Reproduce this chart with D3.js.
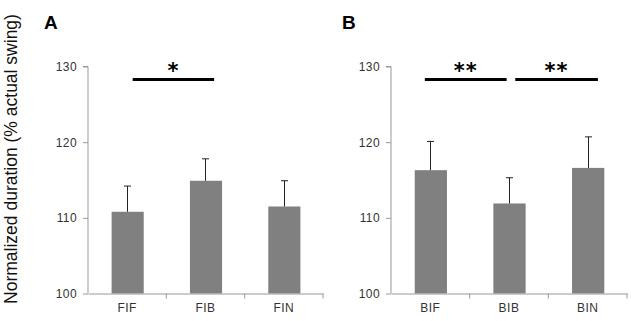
<!DOCTYPE html>
<html>
<head>
<meta charset="utf-8">
<script src="https://cdn.jsdelivr.net/npm/d3@7"></script>
<style>
  body { margin: 0; background: #fff; }
  svg { display: block; }
</style>
</head>
<body>
<div id="chart"></div>
<script>
// data
var catsA = ["FIF", "FIB", "FIN"];
var meanA = [110.8, 114.9, 111.5];
var errA = [3.4, 2.9, 3.4];

var catsB = ["BIF", "BIB", "BIN"];
var meanB = [116.3, 111.9, 116.6];
var errB = [3.8, 3.4, 4.1];

var yTicks = [100, 110, 120, 130];
// significance spans, in category-index units
var sigA = [[0.57, 1.61, "*"]];
var sigB = [[0.43, 1.47, "**"], [1.58, 2.63, "**"]];

function init() {
  var w = 631, h = 321;
  var svg = d3.select("#chart").append("svg")
      .attr("width", w).attr("height", h);

  var y = d3.scaleLinear().domain([100, 130]).range([293.5, 66.5]);

  function panel(left, right, cats, means, errs, sigs, letter, letterX) {
    var x = d3.scaleBand().domain(cats).range([left, right]).padding(0);
    var xi = d3.scaleLinear().domain([0, cats.length]).range([left, right]);
    var g = svg.append("g");

    // y axis
    var yAxis = d3.axisLeft(y).tickValues(yTicks).tickSize(5).tickPadding(6);
    var ya = g.append("g").attr("transform", "translate(" + left + ",0)").call(yAxis);
    ya.select(".domain").attr("stroke", "#999").attr("d", "M-5," + y(130) + "H0V" + y(100));
    ya.selectAll(".tick line").attr("stroke", "#999");
    ya.selectAll(".tick text")
      .attr("fill", "#333")
      .style("font-family", "'Liberation Sans', Arial, sans-serif")
      .style("font-size", "12px")
      .style("letter-spacing", "0.4px");

    // bars
    var bw = x.bandwidth() * 0.41;
    g.selectAll("rect.bar").data(cats).enter().append("rect")
      .attr("class", "bar")
      .attr("x", function(d) { return x(d) + x.bandwidth() / 2 - bw / 2 + 0.5; })
      .attr("y", function(d, i) { return y(means[i]); })
      .attr("width", bw)
      .attr("height", function(d, i) { return y(100) - y(means[i]); })
      .attr("fill", "#808080");

    // error bars
    g.selectAll("path.err").data(cats).enter().append("path")
      .attr("class", "err")
      .attr("d", function(d, i) {
        var cx = Math.round(x(d) + x.bandwidth() / 2) + 0.5;
        var t = y(means[i] + errs[i]);
        return "M" + cx + "," + y(means[i]) + "V" + t + "M" + (cx - 3.5) + "," + t + "H" + (cx + 3.5);
      })
      .attr("stroke", "#222").attr("stroke-width", 1).attr("fill", "none");

    // x axis
    var xAxis = d3.axisBottom(x).tickSize(0).tickPadding(10);
    var xa = g.append("g").attr("transform", "translate(0," + y(100) + ")").call(xAxis);
    xa.select(".domain").attr("stroke", "#999");
    xa.selectAll(".tick text")
      .attr("fill", "#333")
      .style("font-family", "'Liberation Sans', Arial, sans-serif")
      .style("font-size", "12px")
      .style("letter-spacing", "0.5px");
    // category separators below axis
    g.selectAll("line.sep").data(d3.range(1, cats.length + 1)).enter().append("line")
      .attr("class", "sep")
      .attr("x1", function(d) { return xi(d); }).attr("x2", function(d) { return xi(d); })
      .attr("y1", y(100)).attr("y2", y(100) + 5)
      .attr("stroke", "#999");

    // significance bars
    g.selectAll("line.sig").data(sigs).enter().append("line")
      .attr("class", "sig")
      .attr("x1", function(d) { return xi(d[0]); })
      .attr("x2", function(d) { return xi(d[1]); })
      .attr("y1", 79.5).attr("y2", 79.5)
      .attr("stroke", "#000").attr("stroke-width", 3);
    g.selectAll("text.star").data(sigs).enter().append("text")
      .attr("class", "star")
      .attr("x", function(d) { return (xi(d[0]) + xi(d[1])) / 2; })
      .attr("y", 78)
      .attr("text-anchor", "middle")
      .style("font-family", "'DejaVu Sans', sans-serif")
      .style("font-size", "21px")
      .style("font-weight", "bold")
      .style("letter-spacing", "1px")
      .text(function(d) { return d[2]; });

    // panel letter
    svg.append("text")
      .attr("x", letterX).attr("y", 29)
      .style("font-family", "'Liberation Sans', Arial, sans-serif")
      .style("font-size", "19px")
      .style("font-weight", "bold")
      .text(letter);
  }

  panel(88, 323, catsA, meanA, errA, sigA, "A", 44);
  panel(391, 627, catsB, meanB, errB, sigB, "B", 342);

  // shared y label
  svg.append("text")
    .attr("transform", "translate(17,159) rotate(-90)")
    .attr("text-anchor", "middle")
    .style("font-family", "'Liberation Sans', Arial, sans-serif")
    .style("font-size", "17.5px")
    .attr("fill", "#111")
    .text("Normalized duration (% actual swing)");
}

window.onload = init;
</script>
</body>
</html>
